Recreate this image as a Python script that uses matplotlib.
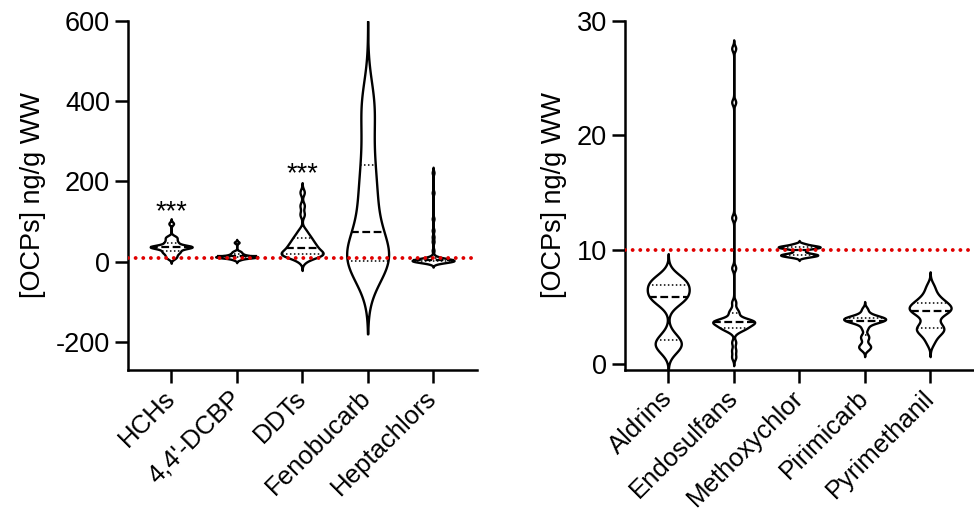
import numpy as np
import matplotlib
matplotlib.use('Agg')
import matplotlib.pyplot as plt

plt.rcParams['font.family'] = ['Liberation Sans', 'DejaVu Sans']

# Категории и значения (оценены по картинке)
left_names = ['HCHs', "4,4'-DCBP", 'DDTs', 'Fenobucarb', 'Heptachlors']
right_names = ['Aldrins', 'Endosulfans', 'Methoxychlor', 'Pirimicarb', 'Pyrimethanil']

hchs = [8, 12, 16, 20, 23, 25, 27, 30, 33, 35, 36, 36, 37, 37, 38, 38, 39,
        42, 46, 48, 52, 56, 60, 63, 95]
dcbp = [5, 8, 10, 11, 11, 12, 12, 12, 13, 13, 14, 16, 18, 20, 23, 26, 48]
ddts = [2, 9, 13, 15, 16, 17, 18, 20, 22, 24, 26, 28, 31, 34, 36, 39, 42,
        45, 48, 52, 56, 60, 65, 71, 80, 118, 140, 173]
fenobucarb = [0, 0, 0, 1, 2, 3, 6, 15, 30, 55, 95, 120, 150, 180, 210, 250,
              300, 360, 390, 420]
heptachlors = [0, 0, 0, 0, 0.5, 0.5, 1, 1, 1, 1.5, 1.5, 2, 2, 2, 2.5, 3, 3,
               3.5, 4, 4, 5, 5, 6, 6, 7, 8, 9, 10, 14, 28, 50, 62, 78, 107,
               172, 222]

aldrins = [1.2, 1.5, 1.8, 2.0, 2.5, 5.3, 5.6, 5.8, 6.0, 6.2, 6.5, 6.8, 7.0,
           7.2, 7.4, 7.7]
endosulfans = [0.6, 1.2, 1.9, 2.8, 3.0, 3.1, 3.15, 3.2, 3.3, 3.4, 3.5, 3.55,
               3.6, 3.65, 3.7, 3.7, 3.75, 3.8, 3.85, 3.9, 4.0, 4.4, 4.5, 4.8,
               5.4, 8.4, 12.8, 22.9, 27.6]
methoxychlor = [9.35, 9.45, 9.5, 9.55, 9.6, 9.7, 9.9, 10.1, 10.15, 10.2,
                10.25, 10.3, 10.35, 10.5]
pirimicarb = [1.3, 1.5, 1.7, 2.2, 2.5, 3.1, 3.5, 3.65, 3.75, 3.8, 3.85, 3.9,
              3.95, 4.0, 4.05, 4.1, 4.2, 4.4, 4.8]
pyrimethanil = [1.9, 2.5, 2.8, 3.0, 3.1, 3.3, 3.6, 4.1, 4.4, 4.6, 4.7, 4.8,
                4.9, 5.0, 5.2, 5.4, 5.5, 5.8, 6.2, 6.8]

left_data = [hchs, dcbp, ddts, fenobucarb, heptachlors]
right_data = [aldrins, endosulfans, methoxychlor, pirimicarb, pyrimethanil]
left_bw = [4, 2.5, 8, 60, 4.5]
right_bw = [0.65, 0.25, 0.1, 0.22, 0.42]

threshold = 10
stars = {1: 106, 3: 201}

HALF = 0.32
FS = 19.5


def draw_violin(ax, pos, values, bw):
    v = np.asarray(values, dtype=float)
    y = np.linspace(v.min() - 3 * bw, v.max() + 3 * bw, 1200)
    d = np.exp(-0.5 * ((y[:, None] - v[None, :]) / bw) ** 2).sum(axis=1)
    w = HALF * d / d.max()
    ax.fill_betweenx(y, pos - w, pos + w, facecolor='white',
                     edgecolor='black', lw=1.7, zorder=2)
    q1, med, q3 = np.percentile(v, [25, 50, 75], method='weibull')
    for q in (q1, q3):
        wq = np.interp(q, y, w)
        ax.plot([pos - wq, pos + wq], [q, q], color='black', lw=1.1,
                ls=(0, (1, 1.6)), zorder=3)
    wm = np.interp(med, y, w)
    ax.plot([pos - wm, pos + wm], [med, med], color='black', lw=1.6,
            ls=(0, (3.5, 1.6)), zorder=3)


def style_axis(ax, names):
    for s in ['top', 'right']:
        ax.spines[s].set_visible(False)
    for s in ['left', 'bottom']:
        ax.spines[s].set_linewidth(1.8)
    ax.tick_params(axis='both', length=9.5, width=1.8, labelsize=FS)
    ax.tick_params(axis='x', pad=8, labelsize=18.5)
    ax.set_xticks(range(1, len(names) + 1))
    ax.set_xticklabels(names, rotation=45, ha='right', va='center',
                       rotation_mode='anchor')
    ax.set_xlim(0.34, 5.67)
    ax.set_ylabel('[OCPs] ng/g WW', fontsize=FS, labelpad=7)
    ax.axhline(threshold, color='#e00000', lw=2.8, ls=(0, (0.01, 1.95)),
               dash_capstyle='round', zorder=4)


fig = plt.figure(figsize=(9.74, 5.14), dpi=100)
ax1 = fig.add_axes([0.1314, 0.2802, 0.3583, 0.679])
ax2 = fig.add_axes([0.6417, 0.2802, 0.3583, 0.679])

for i, (vals, bw) in enumerate(zip(left_data, left_bw)):
    draw_violin(ax1, i + 1, vals, bw)
for i, (vals, bw) in enumerate(zip(right_data, right_bw)):
    draw_violin(ax2, i + 1, vals, bw)

style_axis(ax1, left_names)
style_axis(ax2, right_names)

ax1.set_ylim(-270, 600)
ax1.set_yticks([-200, 0, 200, 400, 600])
ax1.set_yticklabels(['-200', '0', '200', '400', '600'])
ax2.set_ylim(-0.525, 30)
ax2.set_yticks([0, 10, 20, 30])

for x, y in stars.items():
    ax1.text(x, y, '***', fontsize=FS, ha='center', va='baseline')

fig.savefig('out.png', dpi=100)
